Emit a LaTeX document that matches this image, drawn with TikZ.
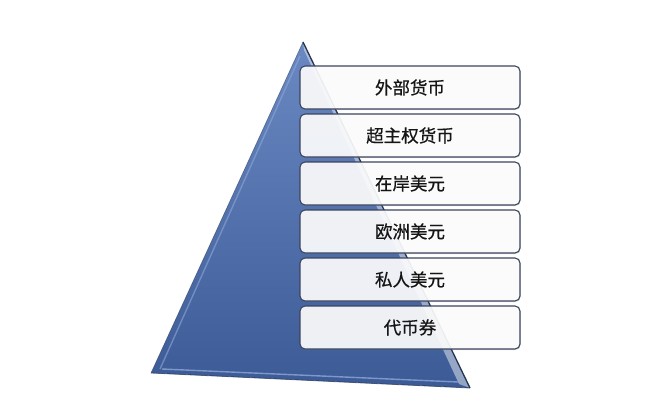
\documentclass[tikz,border=0pt]{standalone}
\usepackage{fontspec}
\newfontfamily\cjk[FakeBold=0.6]{Noto Sans CJK SC}
\usetikzlibrary{shadows}
\definecolor{triA}{HTML}{6A88C2}
\definecolor{triB}{HTML}{3C5A95}
\definecolor{triedge}{HTML}{26344F}
\definecolor{bevel}{HTML}{8EA8D8}
\definecolor{boxline}{HTML}{3B4460}
\definecolor{txt}{HTML}{151515}
\tikzset{
  listbox/.style={draw=boxline, line width=1.1pt, rounded corners=5pt,
    fill=white, fill opacity=0.9, text opacity=1,
    minimum width=220pt, minimum height=43pt, inner sep=0pt,
    font=\cjk\fontsize{17.5}{20}\selectfont, text=txt,
    drop shadow={shadow xshift=0.6pt, shadow yshift=-1pt, opacity=0.25}},
  bevelline/.style={draw=bevel, line width=1.4pt},
}
\begin{document}
\begin{tikzpicture}[x=1pt,y=1pt]
\useasboundingbox (0,0) rectangle (658,408);
% triangle
\coordinate (apex) at (303,366);
\coordinate (bl) at (151,35);
\coordinate (br) at (470,20);
\shade[top color=triA, bottom color=triB] (apex) -- (br) -- (bl) -- cycle;
% bevels
\coordinate (lb1) at (300,352);
\coordinate (lb2) at (160,39);
\draw[bevelline, opacity=0.6] (lb1) -- (lb2);
\coordinate (bb1) at (162,39);
\coordinate (bb2) at (458,26);
\draw[bevelline, opacity=0.8] (bb1) -- (bb2);
% gloss strip along right edge
\coordinate (g1) at (304,358);
\coordinate (g2) at (459,24);
\fill[white, opacity=0.45] (apex) -- (br) -- (g2) -- (g1) -- cycle;
% edges
\draw[triedge, line width=1.3pt, line join=round] (apex) -- (br);
\draw[triedge, line width=0.8pt, opacity=0.7] (bl) -- (br);
\draw[triedge, line width=0.6pt, opacity=0.5] (apex) -- (bl);
% boxes
\node[listbox] (b1) at (410,320.5) {外部货币};
\node[listbox] (b2) at (410,272.5) {超主权货币};
\node[listbox] (b3) at (410,224.5) {在岸美元};
\node[listbox] (b4) at (410,176.5) {欧洲美元};
\node[listbox] (b5) at (410,128.5) {私人美元};
\node[listbox] (b6) at (410,80.5) {代币券};
\end{tikzpicture}
\end{document}
